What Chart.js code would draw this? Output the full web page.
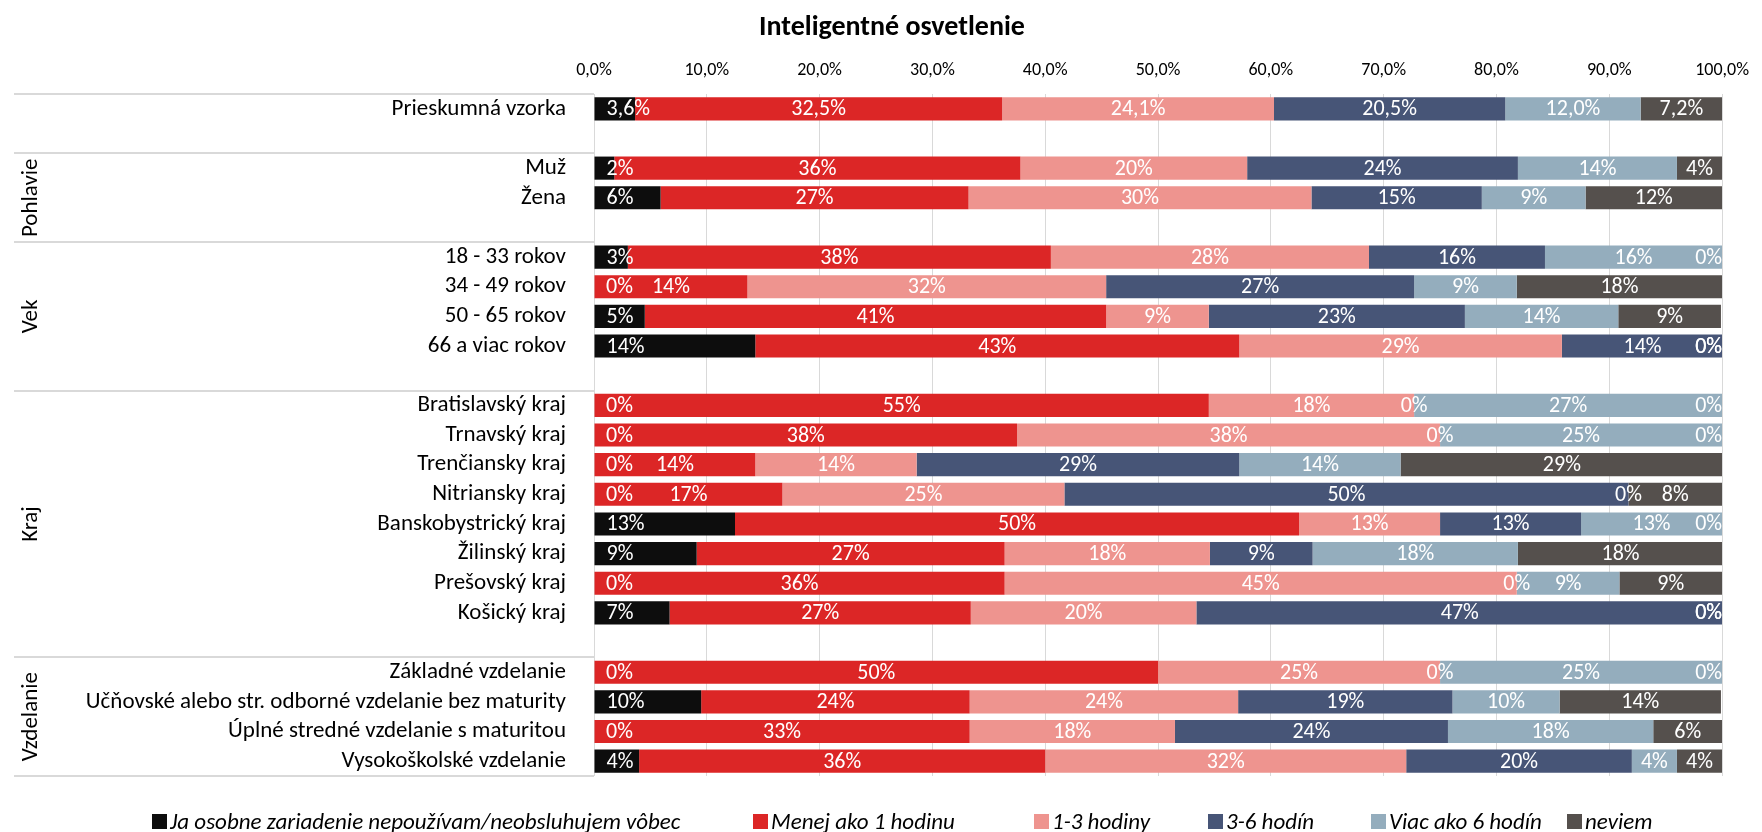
<!DOCTYPE html>
<html>
<head>
<meta charset="utf-8">
<script src="https://cdn.jsdelivr.net/npm/chart.js@4.4.0/dist/chart.umd.min.js"></script>
<style>
  html, body { margin: 0; padding: 0; background: #ffffff; }
  #wrap { position: relative; width: 1762px; height: 832px; }
  canvas { display: block; }
</style>
</head>
<body>
<div id="wrap"><canvas id="c" width="1762" height="832"></canvas></div>
<script>
// ---------- DATA ----------
const chartTitle = 'Inteligentné osvetlenie';

const categories = [
  'Prieskumná vzorka', '',
  'Muž', 'Žena', '',
  '18 - 33 rokov', '34 - 49 rokov', '50 - 65 rokov', '66 a viac rokov', '',
  'Bratislavský kraj', 'Trnavský kraj', 'Trenčiansky kraj', 'Nitriansky kraj',
  'Banskobystrický kraj', 'Žilinský kraj', 'Prešovský kraj', 'Košický kraj', '',
  'Základné vzdelanie', 'Učňovské alebo str. odborné vzdelanie bez maturity',
  'Úplné stredné vzdelanie s maturitou', 'Vysokoškolské vzdelanie'
];

// group name, first and last category index
const groupNames = ['Pohlavie', 'Vek', 'Kraj', 'Vzdelanie'];
const groupStarts = [2, 5, 10, 19];
const groupEnds = [4, 9, 18, 22];

const seriesNames = [
  'Ja osobne zariadenie nepoužívam/neobsluhujem vôbec',
  'Menej ako 1 hodinu',
  '1-3 hodiny',
  '3-6 hodín',
  'Viac ako 6 hodín',
  'neviem'
];

const nepouzivam = [3.64, null, 1.8, 5.9, null, 3.0, 0, 4.5, 14.3, null, 0, 0, 0, 0, 12.5, 9.1, 0, 6.7, null, 0, 9.5, 0, 4.0];
const menejAko1 = [32.54, null, 36.0, 27.3, null, 37.5, 13.6, 40.9, 42.9, null, 54.5, 37.5, 14.3, 16.7, 50.0, 27.3, 36.4, 26.7, null, 50.0, 23.8, 33.3, 36.0];
const hodiny13 = [24.1, null, 20.1, 30.4, null, 28.2, 31.8, 9.1, 28.6, null, 18.2, 37.5, 14.3, 25.0, 12.5, 18.2, 45.4, 20.0, null, 25.0, 23.8, 18.2, 32.0];
const hodin36 = [20.5, null, 24.0, 15.1, null, 15.6, 27.3, 22.7, 14.3, null, 0, 0, 28.6, 50.0, 12.5, 9.1, 0, 46.7, null, 0, 19.0, 24.2, 20.0];
const viacAko6 = [12.0, null, 14.1, 9.2, null, 15.7, 9.1, 13.6, 0, null, 27.3, 25.0, 14.3, 0, 12.5, 18.2, 9.1, 0, null, 25.0, 9.5, 18.2, 4.0];
const neviem = [7.22, null, 4.0, 12.1, null, 0, 18.2, 9.1, 0, null, 0, 0, 28.6, 8.3, 0, 18.2, 9.1, 0, null, 0, 14.3, 6.1, 4.0];

const tickValues = [0, 10, 20, 30, 40, 50, 60, 70, 80, 90, 100];
const oneDecimalRows = ['Prieskumná vzorka'];

// ---------- STYLE ----------
const seriesColors = ['#0d0d0d', '#dc2626', '#ee948f', '#475577', '#94adbd', '#55504d'];
const FONT = 'Carlito, Lato, "Noto Sans", sans-serif';

function fmtPct(v, decimals) {
  return v.toFixed(decimals).replace('.', ',') + '%';
}

const allSeries = [nepouzivam, menejAko1, hodiny13, hodin36, viacAko6, neviem];

const datasets = allSeries.map((arr, i) => ({
  label: seriesNames[i],
  data: arr,
  backgroundColor: seriesColors[i],
  borderWidth: 0,
  barPercentage: 0.78,
  categoryPercentage: 1.0
}));

// custom: data labels (including zero values), group labels + lines, title, legend
const decorPlugin = {
  id: 'decor',
  afterDatasetsDraw(chart) {
    const ctx = chart.ctx;
    const area = chart.chartArea;
    ctx.save();
    ctx.font = '22px ' + FONT;
    ctx.fillStyle = '#ffffff';
    ctx.textBaseline = 'middle';
    chart.data.datasets.forEach((ds, di) => {
      const meta = chart.getDatasetMeta(di);
      meta.data.forEach((bar, idx) => {
        const v = ds.data[idx];
        if (v === null || v === undefined) return;
        const dec = oneDecimalRows.includes(categories[idx]) ? 1 : 0;
        const txt = fmtPct(v, dec);
        const w = ctx.measureText(txt).width;
        const start = Math.min(bar.x, bar.base);
        const end = Math.max(bar.x, bar.base);
        let left;
        if (di === 0) {
          left = start + 12;           // inside base
        } else {
          left = (start + end) / 2 - w / 2;   // centered
        }
        if (left < area.left + 12) left = area.left + 12;
        if (left + w > area.right) left = area.right - w;
        ctx.textAlign = 'left';
        ctx.fillText(txt, left, bar.y + 1);
      });
    });
    ctx.restore();
  },
  afterDraw(chart) {
    const ctx = chart.ctx;
    const area = chart.chartArea;
    const y = chart.scales.y;
    const pitch = (area.bottom - area.top) / categories.length;
    ctx.save();
    // separator lines in label area
    ctx.strokeStyle = '#d9d9d9';
    ctx.lineWidth = 2;
    const lineYs = [area.top, area.bottom];
    groupStarts.forEach(s => lineYs.push(y.getPixelForValue(s) - pitch / 2));
    lineYs.forEach(ly => {
      ctx.beginPath();
      ctx.moveTo(14, Math.round(ly));
      ctx.lineTo(area.left, Math.round(ly));
      ctx.stroke();
    });
    // group labels (rotated)
    ctx.fillStyle = '#000000';
    ctx.font = '23px ' + FONT;
    ctx.textAlign = 'center';
    ctx.textBaseline = 'middle';
    groupNames.forEach((g, i) => {
      const y0 = y.getPixelForValue(groupStarts[i]) - pitch / 2;
      const y1 = y.getPixelForValue(groupEnds[i]) + pitch / 2;
      ctx.save();
      ctx.translate(31, (y0 + y1) / 2);
      ctx.rotate(-Math.PI / 2);
      ctx.fillText(g, 0, 0);
      ctx.restore();
    });
    // title
    ctx.font = 'bold 28px ' + FONT;
    ctx.fillStyle = '#000000';
    ctx.fillText(chartTitle, 892, 28);
    // legend
    const legendX = [152, 753, 1034, 1208, 1371, 1567];
    const ly = 822;
    ctx.font = 'italic 23px ' + FONT;
    ctx.textAlign = 'left';
    seriesNames.forEach((name, i) => {
      ctx.fillStyle = seriesColors[i];
      ctx.fillRect(legendX[i], ly - 8, 15, 15);
      ctx.fillStyle = '#000000';
      ctx.fillText(name, legendX[i] + 18, ly + 1);
    });
    ctx.restore();
  }
};

new Chart(document.getElementById('c'), {
  type: 'bar',
  data: { labels: categories, datasets: datasets },
  plugins: [decorPlugin],
  options: {
    indexAxis: 'y',
    responsive: false,
    animation: false,
    layout: { padding: { left: 0, right: 32, top: 0, bottom: 56 } },
    plugins: {
      legend: { display: false },
      title: { display: false },
      tooltip: { enabled: false }
    },
    scales: {
      x: {
        position: 'top',
        stacked: true,
        min: 0,
        max: 100,
        afterBuildTicks(scale) { scale.ticks = tickValues.map(v => ({ value: v })); },
        afterFit(scale) { scale.height = 94; },
        ticks: {
          padding: 13,
          color: '#000000',
          font: { family: FONT, size: 18 },
          callback: v => fmtPct(v, 1)
        },
        grid: { color: '#d9d9d9', lineWidth: 1, drawTicks: false },
        border: { display: false }
      },
      y: {
        stacked: true,
        afterFit(scale) { scale.width = 594; },
        ticks: {
          autoSkip: false,
          padding: 28,
          color: '#000000',
          font: { family: FONT, size: 23 }
        },
        grid: { display: false, drawTicks: false },
        border: { display: false }
      }
    }
  }
});
</script>
</body>
</html>
